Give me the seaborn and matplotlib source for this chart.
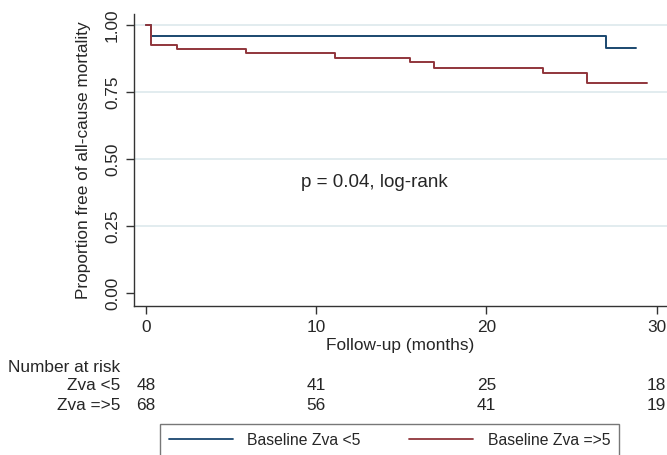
import pandas as pd
import numpy as np
import matplotlib.pyplot as plt
import seaborn as sns

# Kaplan-Meier Stufen
low_times = [0, 0.3, 27.0, 28.8]
low_surv = [1.0, 0.958, 0.914, 0.914]
high_times = [0, 0.3, 1.8, 5.9, 11.1, 15.5, 16.9, 23.3, 25.9, 29.4]
high_surv = [1.0, 0.926, 0.910, 0.897, 0.877, 0.861, 0.839, 0.820, 0.782, 0.782]
groups = ['Baseline Zva <5', 'Baseline Zva =>5']

# Number at risk
risk_times = [0, 10, 20, 30]
risk_low = [48, 41, 25, 18]
risk_high = [68, 56, 41, 19]
risk_labels = ['Zva <5', 'Zva =>5']

df = pd.concat([
    pd.DataFrame({'time': low_times, 'surv': low_surv, 'group': groups[0]}),
    pd.DataFrame({'time': high_times, 'surv': high_surv, 'group': groups[1]}),
])

sns.set_style('white')
plt.rcParams['font.family'] = ['Liberation Sans', 'DejaVu Sans']
fs = 12.4

fig = plt.figure(figsize=(6.67, 4.55), dpi=100)
ax = fig.add_axes([134 / 667, 1 - 306 / 455, 1 - 134 / 667, (306 - 14) / 455])

for yv in [0.25, 0.5, 0.75, 1.0]:
    ax.axhline(yv, color='#dfeaee', lw=1.3, zorder=0)

sns.lineplot(data=df, x='time', y='surv', hue='group', hue_order=groups,
             palette=['#1a476f', '#90353b'], drawstyle='steps-post',
             estimator=None, sort=False, lw=1.4, ax=ax, legend=False)

ax.set_xlim(-0.7, 30.6)
ax.set_ylim(-0.048, 1.041)
ax.set_xticks([0, 10, 20, 30])
ax.set_yticks([0, 0.25, 0.5, 0.75, 1.0])
ax.set_yticklabels(['0.00', '0.25', '0.50', '0.75', '1.00'], rotation=90, va='center')
ax.tick_params(axis='both', labelsize=fs, length=6, width=1, color='#333333', direction='out', pad=4)
ax.tick_params(left=True, bottom=True)
for s in ['top', 'right']:
    ax.spines[s].set_visible(False)
for s in ['left', 'bottom']:
    ax.spines[s].set_color('#333333')
    ax.spines[s].set_linewidth(1)

ax.set_xlabel('Follow-up (months)', fontsize=fs, labelpad=2)
ax.set_ylabel('Proportion free of all-cause mortality', fontsize=fs, labelpad=10)

ax.text(13.4, 0.413, 'p = 0.04, log-rank', fontsize=13.6, ha='center', va='center')

# Tabelle "Number at risk"
fig.text(8 / 667, 1 - 367 / 455, 'Number at risk', fontsize=fs, va='center')
for row, (lab, vals) in enumerate([(risk_labels[0], risk_low), (risk_labels[1], risk_high)]):
    ypix = 386 + row * 20
    fig.text(120 / 667, 1 - ypix / 455, lab, fontsize=fs, ha='right', va='center')
    for t, v in zip(risk_times, vals):
        xfig = ax.transData.transform((t, 0))[0] / fig.bbox.width
        fig.text(xfig, 1 - ypix / 455, str(v), fontsize=fs, ha='center', va='center')

handles = [plt.Line2D([], [], color='#1a476f', lw=1.3), plt.Line2D([], [], color='#90353b', lw=1.3)]
leg = fig.legend(handles, groups, loc='upper left', bbox_to_anchor=(160 / 667, 1 - 424 / 455),
                 ncol=2, fontsize=11.3, frameon=True, fancybox=False, handlelength=4.1,
                 columnspacing=3.1, borderpad=0.55, handletextpad=0.9, borderaxespad=0)
leg.get_frame().set_edgecolor('#555555')
leg.get_frame().set_linewidth(1)

plt.savefig('out.png', dpi=100)
